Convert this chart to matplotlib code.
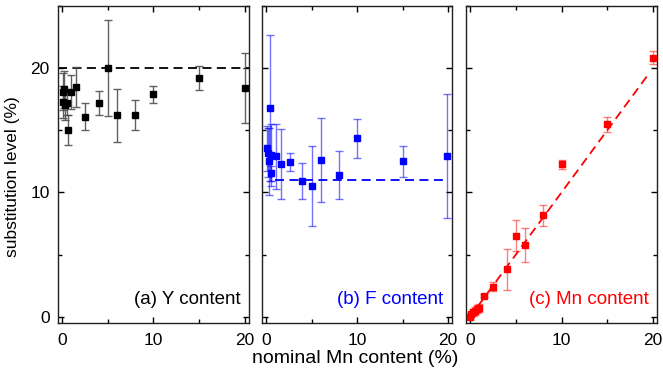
"""
Substitution level vs nominal Mn content - three panels (Y, F, Mn).
"""

import matplotlib.pyplot as plt
from matplotlib.ticker import MultipleLocator

plt.rcParams['font.family'] = ['Liberation Sans', 'DejaVu Sans']

# (a) Y content
y_x = [0.05, 0.15, 0.25, 0.35, 0.5, 0.6, 1.0, 1.5, 2.5, 4.0, 5.0, 6.0, 8.0, 10.0, 15.0, 20.0]
y_val = [18.1, 17.3, 18.3, 17.0, 17.2, 15.0, 18.1, 18.5, 16.1, 17.2, 20.0, 16.2, 16.2, 17.9, 19.2, 18.4]
y_err = [1.5, 1.3, 1.5, 1.2, 1.0, 1.2, 1.35, 1.6, 1.1, 1.0, 3.85, 2.15, 1.2, 0.7, 0.95, 2.8]
y_ref = 20.0

# (b) F content
f_x = [0.07, 0.17, 0.33, 0.44, 0.6, 0.6, 1.1, 1.6, 2.6, 4.0, 5.05, 6.0, 8.0, 10.0, 15.0, 19.9]
f_val = [13.55, 13.2, 12.5, 16.8, 13.0, 11.55, 12.9, 12.3, 12.45, 10.95, 10.5, 12.6, 11.4, 14.35, 12.5, 12.9]
f_err = [1.8, 2.0, 2.7, 5.9, 2.5, 0.6, 2.6, 2.8, 0.75, 1.45, 3.2, 3.35, 1.9, 1.55, 1.25, 5.0]
f_ref = 11.0

# (c) Mn content
mn_x = [0.0, 0.1, 0.3, 0.5, 0.7, 0.95, 1.5, 2.5, 4.0, 5.0, 6.0, 8.0, 10.0, 15.0, 20.05]
mn_val = [0.0, 0.2, 0.35, 0.45, 0.6, 0.7, 1.7, 2.4, 3.8, 6.5, 5.75, 8.15, 12.25, 15.5, 20.85]
mn_err = [0.2, 0.2, 0.3, 0.3, 0.3, 0.3, 0.1, 0.35, 1.65, 1.25, 1.35, 0.85, 0.35, 0.6, 0.55]
mn_line_x = [0.0, 19.5]
mn_line_y = [0.0, 19.5]

fig = plt.figure(figsize=(6.63, 3.75), dpi=100)
bottom, height = 0.139, 0.845
ax1 = fig.add_axes([0.0875, bottom, 0.288, height])
ax2 = fig.add_axes([0.395, bottom, 0.287, height])
ax3 = fig.add_axes([0.703, bottom, 0.288, height])

panels = [
    (ax1, y_x, y_val, y_err, 'black', '#505050', 0.9, '(a) Y content'),
    (ax2, f_x, f_val, f_err, 'blue', 'blue', 0.55, '(b) F content'),
    (ax3, mn_x, mn_val, mn_err, 'red', 'red', 0.5, '(c) Mn content'),
]

for ax, xs, ys, es, col, ecol, ealpha, label in panels:
    ax.errorbar(xs, ys, yerr=es, fmt='none', ecolor=ecol, elinewidth=1,
                capsize=3, capthick=1, alpha=ealpha, zorder=2)
    ax.plot(xs, ys, 's', color=col, markersize=5, zorder=3)
    ax.set_xlim(-0.45, 20.45)
    ax.set_ylim(-0.5, 25)
    ax.xaxis.set_major_locator(MultipleLocator(10))
    ax.xaxis.set_minor_locator(MultipleLocator(5))
    ax.yaxis.set_major_locator(MultipleLocator(10))
    ax.yaxis.set_minor_locator(MultipleLocator(5))
    ax.tick_params(which='both', direction='in', top=True, right=True,
                   labelsize=12.5)
    ax.tick_params(axis='x', pad=7)
    ax.tick_params(axis='y', pad=6)
    ax.tick_params(which='major', length=4, width=1)
    ax.tick_params(which='minor', length=3, width=1)
    for sp in ax.spines.values():
        sp.set_linewidth(1)
        sp.set_color('#202020')
    ax.text(0.955, 0.075, label, transform=ax.transAxes, ha='right', va='center',
            color=col, fontsize=13.5)

ax2.tick_params(labelleft=False)
ax3.tick_params(labelleft=False)

# reference lines
ax1.axhline(y_ref, color='black', linestyle=(0, (5, 3)), linewidth=1.3, zorder=1)
ax2.plot([1.0, 20.0], [f_ref, f_ref], color='blue', linestyle=(0, (5, 3)),
         linewidth=1.3, zorder=1)
ax3.plot(mn_line_x, mn_line_y, color='red', linestyle=(0, (5, 3)),
         linewidth=1.3, zorder=1)

ax1.set_ylabel('substitution level (%)', fontsize=12.5)
ax1.yaxis.set_label_coords(-0.2, 0.46)
fig.text(0.5355, 0.045, 'nominal Mn content (%)', ha='center', va='center', fontsize=14)

plt.savefig('out.png', dpi=100)
plt.close(fig)
